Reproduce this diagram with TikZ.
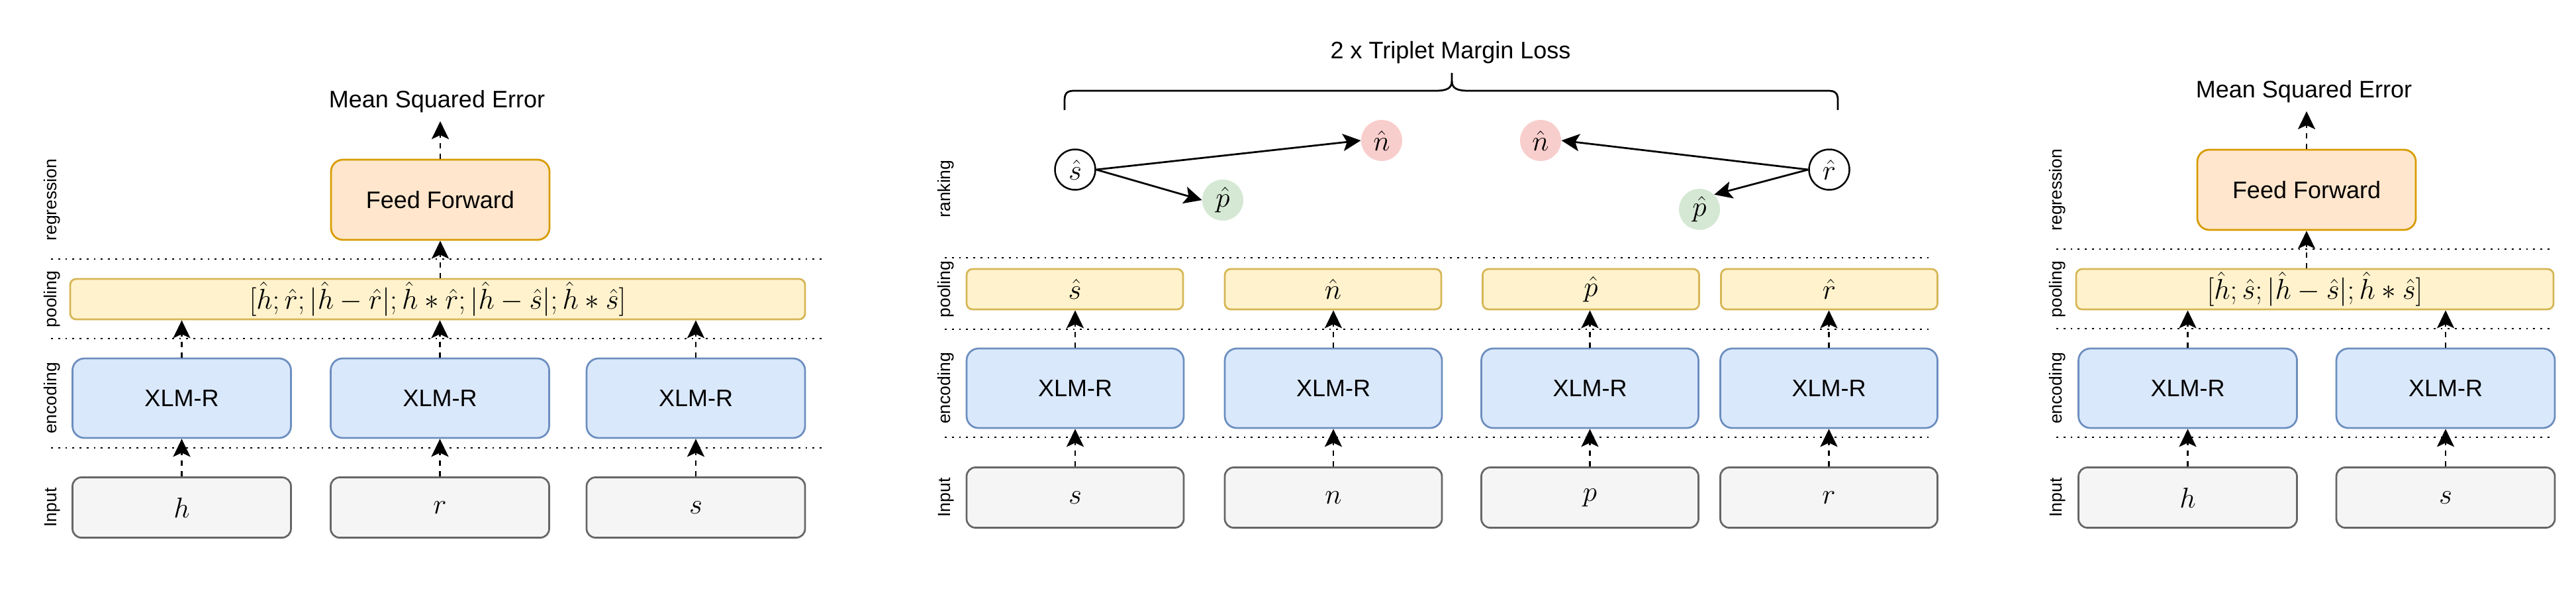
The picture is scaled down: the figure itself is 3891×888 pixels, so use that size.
\documentclass[tikz,border=0pt]{standalone}
\usepackage{fontspec}
\usepackage{tikz}
\usepackage{xcolor}
\usetikzlibrary{arrows.meta}
\newfontfamily\drawFont{Liberation Sans}
\definecolor{encFillColor}{HTML}{DAE8FC}
\definecolor{encLineColor}{HTML}{6C8EBF}
\definecolor{poolFillColor}{HTML}{FFF2CC}
\definecolor{poolLineColor}{HTML}{D6B656}
\definecolor{headFillColor}{HTML}{FFE6CC}
\definecolor{headLineColor}{HTML}{D79B00}
\definecolor{inputFillColor}{HTML}{F5F5F5}
\definecolor{inputLineColor}{HTML}{666666}
\definecolor{posFillColor}{HTML}{D5E8D4}
\definecolor{negFillColor}{HTML}{F8CECC}
\def\textEnc{XLM-R}
\def\textHead{Feed Forward}
\def\textMSE{Mean Squared Error}
\def\textLoss{2 x Triplet Margin Loss}
\def\poolLeft{$[\hat{h}; \hat{r}; |\hat{h} - \hat{r}|; \hat{h} * \hat{r}; |\hat{h} - \hat{s}|; \hat{h} * \hat{s}]$}
\def\poolRight{$[\hat{h}; \hat{s}; |\hat{h} - \hat{s}|; \hat{h} * \hat{s}]$}

\begin{document}
\begin{tikzpicture}[x=0.4pt,y=-0.4pt,
  boxText/.style={font=\drawFont\fontsize{14.4}{17}\selectfont},
  mathText/.style={font=\fontsize{17.6}{21}\selectfont},
  sideLabel/.style={font=\drawFont\fontsize{10.6}{13}\selectfont, rotate=90, inner sep=0pt},
  boxBase/.style={rectangle, line width=1.1pt, inner sep=0pt, minimum width=132pt},
  encBox/.style={boxBase, draw=encLineColor, fill=encFillColor, rounded corners=7.2pt, minimum height=48pt, boxText},
  headBox/.style={boxBase, draw=headLineColor, fill=headFillColor, rounded corners=7.2pt, minimum height=48.4pt, boxText},
  inputBox/.style={boxBase, draw=inputLineColor, fill=inputFillColor, rounded corners=5.4pt, minimum height=36.4pt, mathText},
  poolBox/.style={boxBase, draw=poolLineColor, fill=poolFillColor, rounded corners=3.6pt, minimum height=24.4pt, mathText},
  anchorNode/.style={circle, draw=black, line width=1pt, fill=white, inner sep=0pt, minimum size=24.4pt, mathText},
  posNode/.style={circle, fill=posFillColor, inner sep=0pt, minimum size=24.8pt, mathText},
  negNode/.style={circle, fill=negFillColor, inner sep=0pt, minimum size=24.8pt, mathText},
  flowArrow/.style={line width=1.1pt, dash pattern=on 3.2pt off 3.2pt, -{Stealth[length=10.8pt, width=10.4pt, inset=2.4pt]}},
  rankArrow/.style={line width=1.1pt, -{Stealth[length=10.8pt, width=10.4pt, inset=2.4pt]}},
  layerLine/.style={line width=1.1pt, dash pattern=on 1.1pt off 3.2pt},
  braceLine/.style={line width=1.1pt}]

\useasboundingbox (0,0) rectangle (3891,888);

% left panel: regression on h, r, s
\begin{scope}
% layer lines
\draw[layerLine] (77,391) -- (1244,391);
\draw[layerLine] (77,511) -- (1244,511);
\draw[layerLine] (77,676) -- (1244,676);

% side labels
\node[sideLabel] (regL) at (79,301.5) {regression};
\node[sideLabel] (poolLabL) at (79,451.5) {pooling};
\node[sideLabel] (encLabL) at (79,601) {encoding};
\node[sideLabel] (inpLabL) at (79,766) {Input};

% boxes
\node[headBox] (headL) at (665,301.5) {\textHead};
\node[poolBox, minimum width=444pt] (poolL) at (661,451.5) {\poolLeft};
\node[encBox] (encLA) at (274.5,601) {\textEnc};
\node[encBox] (encLB) at (664.5,601) {\textEnc};
\node[encBox] (encLC) at (1051,601) {\textEnc};
\node[inputBox] (inpLA) at (274.5,766) {$h$};
\node[inputBox] (inpLB) at (664.5,766) {$r$};
\node[inputBox] (inpLC) at (1051,766) {$s$};
\node[boxText, anchor=base] (mseL) at (660,162) {\textMSE};
\coordinate (mseTipL) at (665,183);

% links
\draw[flowArrow] (inpLA) -- (encLA);
\draw[flowArrow] (inpLB) -- (encLB);
\draw[flowArrow] (inpLC) -- (encLC);
\draw[flowArrow] (encLA) -- (encLA |- poolL.south);
\draw[flowArrow] (encLB) -- (encLB |- poolL.south);
\draw[flowArrow] (encLC) -- (encLC |- poolL.south);
\draw[flowArrow] (headL.south |- poolL.north) -- (headL.south);
\draw[flowArrow] (headL) -- (mseTipL);
\end{scope}

% middle panel: ranking on s, n, p, r
\begin{scope}
% layer lines
\draw[layerLine] (1427,389) -- (2918,389);
\draw[layerLine] (1427,497) -- (2918,497);
\draw[layerLine] (1427,660) -- (2918,660);

% side labels
\node[sideLabel] (rankLabM) at (1429,285) {ranking};
\node[sideLabel] (poolLabM) at (1429,436.5) {pooling};
\node[sideLabel] (encLabM) at (1429,586) {encoding};
\node[sideLabel] (inpLabM) at (1429,751) {Input};

% boxes
\node[poolBox, minimum width=130.8pt] (poolMA) at (1623.5,436.5) {$\hat{s}$};
\node[poolBox, minimum width=130.8pt] (poolMB) at (2013.5,436.5) {$\hat{n}$};
\node[poolBox, minimum width=130.8pt] (poolMC) at (2403,436.5) {$\hat{p}$};
\node[poolBox, minimum width=130.8pt] (poolMD) at (2763,436.5) {$\hat{r}$};
\node[encBox, minimum width=131.2pt] (encMA) at (1624,586) {\textEnc};
\node[encBox, minimum width=131.2pt] (encMB) at (2014,586) {\textEnc};
\node[encBox, minimum width=131.2pt] (encMC) at (2401.5,586) {\textEnc};
\node[encBox, minimum width=131.2pt] (encMD) at (2762.5,586) {\textEnc};
\node[inputBox, minimum width=131.2pt] (inpMA) at (1624,751) {$s$};
\node[inputBox, minimum width=131.2pt] (inpMB) at (2014,751) {$n$};
\node[inputBox, minimum width=131.2pt] (inpMC) at (2401.5,751) {$p$};
\node[inputBox, minimum width=131.2pt] (inpMD) at (2762.5,751) {$r$};

% ranking nodes
\node[anchorNode] (sHat) at (1624,256) {$\hat{s}$};
\node[posNode] (pHatA) at (1847,302) {$\hat{p}$};
\node[negNode] (nHatA) at (2087,212) {$\hat{n}$};
\node[negNode] (nHatB) at (2327,212) {$\hat{n}$};
\node[posNode] (pHatB) at (2567,316) {$\hat{p}$};
\node[anchorNode] (rHat) at (2763,256) {$\hat{r}$};

% brace and loss label
\draw[braceLine] (1608,166) -- (1608,151) .. controls (1608,141) and (1612,137) .. (1622,137)
  -- (2168,137) .. controls (2186,137) and (2193,133) .. (2193,122) -- (2193,110);
\draw[braceLine] (2193,122) .. controls (2193,133) and (2200,137) .. (2218,137)
  -- (2762,137) .. controls (2772,137) and (2776,141) .. (2776,151) -- (2776,166);
\node[boxText, anchor=base] (lossM) at (2191,88) {\textLoss};

% links
\draw[flowArrow] (inpMA) -- (encMA);
\draw[flowArrow] (inpMB) -- (encMB);
\draw[flowArrow] (inpMC) -- (encMC);
\draw[flowArrow] (inpMD) -- (encMD);
\draw[flowArrow] (encMA) -- (encMA |- poolMA.south);
\draw[flowArrow] (encMB) -- (encMB |- poolMB.south);
\draw[flowArrow] (encMC) -- (encMC |- poolMC.south);
\draw[flowArrow] (encMD) -- (encMD |- poolMD.south);
\draw[rankArrow] (sHat.east) -- (pHatA.west);
\draw[rankArrow] (sHat.east) -- (nHatA.west);
\draw[rankArrow] (rHat.west) -- (nHatB.east);
\draw[rankArrow] (rHat.west) -- (pHatB.north east);
\end{scope}

% right panel: regression on h, s
\begin{scope}
% layer lines
\draw[layerLine] (3106,376) -- (3854,376);
\draw[layerLine] (3106,496) -- (3854,496);
\draw[layerLine] (3106,660) -- (3854,660);

% side labels
\node[sideLabel] (regR) at (3108,286.5) {regression};
\node[sideLabel] (poolLabR) at (3108,436.5) {pooling};
\node[sideLabel] (encLabR) at (3108,586) {encoding};
\node[sideLabel] (inpLabR) at (3108,751) {Input};

% boxes
\node[headBox] (headR) at (3484,286.5) {\textHead};
\node[poolBox, minimum width=288.4pt] (poolR) at (3496.5,436.5) {\poolRight};
\node[encBox] (encRA) at (3304.5,586) {\textEnc};
\node[encBox] (encRB) at (3694,586) {\textEnc};
\node[inputBox] (inpRA) at (3304.5,751) {$h$};
\node[inputBox] (inpRB) at (3694,751) {$s$};
\node[boxText, anchor=base] (mseR) at (3480,147) {\textMSE};
\coordinate (mseTipR) at (3484,168);

% links
\draw[flowArrow] (inpRA) -- (encRA);
\draw[flowArrow] (inpRB) -- (encRB);
\draw[flowArrow] (encRA) -- (encRA |- poolR.south);
\draw[flowArrow] (encRB) -- (encRB |- poolR.south);
\draw[flowArrow] (headR.south |- poolR.north) -- (headR.south);
\draw[flowArrow] (headR) -- (mseTipR);
\end{scope}
\end{tikzpicture}
\end{document}
